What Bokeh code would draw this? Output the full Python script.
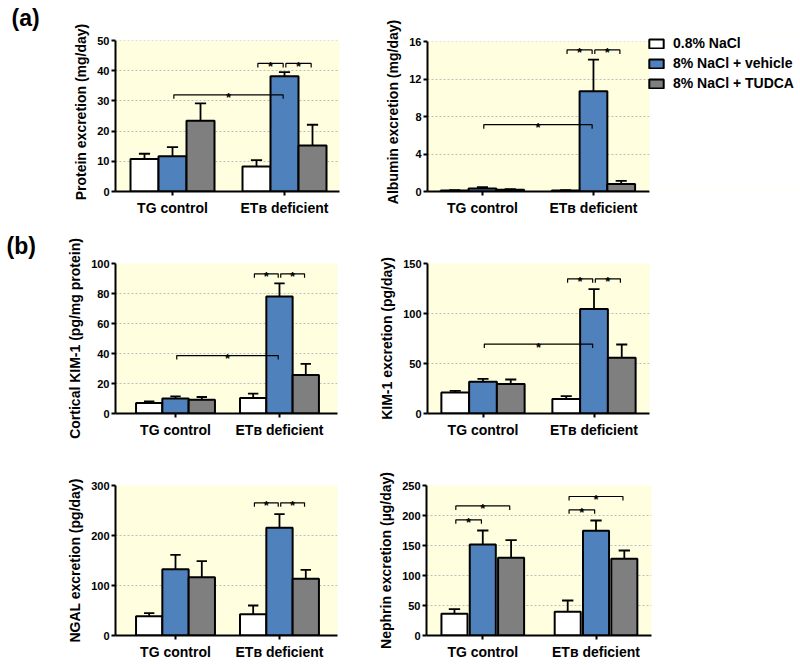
from bokeh.plotting import figure
from bokeh.models import FixedTicker, Legend, LegendItem, ColumnDataSource, Range1d, BoxAnnotation
from bokeh.layouts import column, row
from bokeh.embed import file_html
from bokeh.resources import INLINE
from bokeh.core.properties import value

FONT = "Liberation Sans"
YELLOW = "#FFFFE0"
GROUPS = ["TG control", "ET\u0299 deficient"]
SERIES = ["0.8% NaCl", "8% NaCl + vehicle", "8% NaCl + TUDCA"]
COLORS = ["#FFFFFF", "#4F81BD", "#7F7F7F"]
PANEL_TAGS = ["(a)", "(b)"]

# (a) left: protein excretion  -- rows = series, columns = groups
protein_mean = [[10.8, 8.3], [11.7, 38.2], [23.4, 15.2]]
protein_sem = [[1.7, 2.1], [3.0, 1.3], [5.8, 6.9]]
protein_ticks = [0, 10, 20, 30, 40, 50]
protein_sig = [(0, 1, 1, 1, 32.0), (1, 0, 1, 1, 42.4), (1, 1, 1, 2, 42.4)]

# (a) right: albumin excretion
albumin_mean = [[0.1, 0.1], [0.32, 10.7], [0.2, 0.81]]
albumin_sem = [[0.04, 0.04], [0.14, 3.36], [0.05, 0.32]]
albumin_ticks = [0, 4, 8, 12, 16]
albumin_sig = [(0, 1, 1, 1, 7.13), (1, 0, 1, 1, 15.1), (1, 1, 1, 2, 15.1)]

# (b) cortical KIM-1
ckim_mean = [[7.0, 10.3], [10.0, 78.0], [9.2, 25.7]]
ckim_sem = [[1.0, 2.9], [1.4, 8.7], [1.8, 7.4]]
ckim_ticks = [0, 20, 40, 60, 80, 100]
ckim_sig = [(0, 1, 1, 1, 38.6), (1, 0, 1, 1, 93.1), (1, 1, 1, 2, 93.1)]

# (b) KIM-1 excretion
kim_mean = [[21.0, 14.4], [31.7, 104.4], [29.4, 55.7]]
kim_sem = [[1.7, 3.0], [3.0, 20.0], [4.6, 13.3]]
kim_ticks = [0, 50, 100, 150]
kim_sig = [(0, 1, 1, 1, 69.4), (1, 0, 1, 1, 134.7), (1, 1, 1, 2, 134.7)]

# (b) NGAL excretion
ngal_mean = [[38.7, 42.7], [132.7, 215.3], [116.7, 113.3]]
ngal_sem = [[6.0, 17.3], [28.6, 27.4], [32.0, 18.0]]
ngal_ticks = [0, 100, 200, 300]
ngal_sig = [(1, 0, 1, 1, 265.3), (1, 1, 1, 2, 265.3)]

# (b) Nephrin excretion
neph_mean = [[36.1, 39.5], [151.7, 174.5], [129.5, 127.8]]
neph_sem = [[7.8, 18.8], [23.3, 17.2], [29.5, 13.9]]
neph_ticks = [0, 50, 100, 150, 200, 250]
neph_sig = [(0, 0, 0, 1, 192.8), (0, 0, 0, 2, 216.0), (1, 0, 1, 1, 209.5), (1, 0, 1, 2, 231.7)]


def make_panel(ylabel, means, sems, ticks, sig, xr, size, borders,
               bar_w=0.25, bar_step=0.25, tick_out=4, standoff=4, vis_frac=1.0):
    w, h = size
    bl, br, bt, bb = borders
    ytop = ticks[-1]
    yend = ytop / vis_frac
    p = figure(width=w, height=h, x_range=Range1d(*xr), y_range=Range1d(0, yend),
               output_backend="svg", toolbar_location=None,
               min_border_left=bl, min_border_right=br,
               min_border_top=bt, min_border_bottom=bb)
    p.background_fill_color = YELLOW
    p.border_fill_color = "white"
    p.outline_line_color = None
    p.xgrid.visible = False
    p.ygrid.ticker = FixedTicker(ticks=ticks)
    p.ygrid.grid_line_color = "#BDBDBD"
    p.ygrid.grid_line_dash = "2 2"
    p.ygrid.grid_line_width = 1

    offs = [-bar_step, 0.0, bar_step]
    rs = []
    for s in range(3):
        xs = [g + offs[s] for g in range(len(GROUPS))]
        errs = [m + e for m, e in zip(means[s], sems[s])]
        src = ColumnDataSource(dict(x=xs, top=means[s], err=errs,
                                    cl=[x - 0.05 for x in xs], cr=[x + 0.05 for x in xs]))
        p.segment('x', 'top', 'x', 'err', source=src, line_color="black", line_width=1.8)
        p.segment('cl', 'err', 'cr', 'err', source=src, line_color="black", line_width=1.8)
        r = p.vbar(x='x', top='top', bottom=0, width=bar_w, source=src,
                   fill_color=COLORS[s], line_color="black", line_width=2)
        rs.append(r)

    # significance brackets
    frame_h = h - bt - bb
    drop = yend / frame_h * 4
    bxs, bys, sx, sy = [], [], [], []
    for g0, b0, g1, b1, yv in sig:
        x0 = g0 + offs[b0] + 0.012
        x1 = g1 + offs[b1] - 0.012
        bxs.append([x0, x0, x1, x1])
        bys.append([yv - drop, yv, yv, yv - drop])
        sx.append((x0 + x1) / 2)
        sy.append(yv)
    p.multi_line(bxs, bys, line_color="black", line_width=1.2)
    p.text(sx, sy, text=["*"] * len(sx), text_align="center", text_baseline="alphabetic",
           y_offset=3, text_font=value(FONT), text_font_style="bold",
           text_font_size="13px", text_color="black")

    if vis_frac < 1.0:
        # plotting area stops at the top tick; blank out the strip above it
        p.yaxis.bounds = (0, ytop)
        p.add_layout(BoxAnnotation(bottom=ytop, fill_color="white", fill_alpha=1.0, line_color=None))

    for ax in (p.xaxis[0], p.yaxis[0]):
        ax.axis_line_width = 2
        ax.axis_line_color = "black"
        ax.major_tick_line_width = 2
        ax.major_tick_line_color = "black"
        ax.major_tick_in = 0
        ax.minor_tick_line_color = None
        ax.major_label_text_font = FONT
        ax.major_label_text_font_style = "bold"
        ax.major_label_text_color = "black"
    p.xaxis.major_tick_out = tick_out
    p.xaxis.major_label_standoff = standoff
    p.xaxis.ticker = FixedTicker(ticks=[0, 1])
    p.xaxis.major_label_overrides = {0: GROUPS[0], 1: GROUPS[1]}
    p.xaxis.major_label_text_font_size = "14px"
    p.yaxis.major_tick_out = 4
    p.yaxis.major_label_standoff = 2
    p.yaxis.ticker = FixedTicker(ticks=ticks)
    p.yaxis.major_label_text_font_size = "11px"
    p.yaxis.axis_label = ylabel
    p.yaxis.axis_label_text_font = FONT
    p.yaxis.axis_label_text_font_style = "bold"
    p.yaxis.axis_label_text_font_size = "14px"
    p.yaxis.axis_label_text_color = "black"
    p.yaxis.axis_label_standoff = 5
    return p, rs


def set_tag(p, tag, offset, standoff):
    p.title.text = tag
    p.title.align = "left"
    p.title.offset = offset
    p.title.text_font = FONT
    p.title.text_font_style = "bold"
    p.title.text_font_size = "23px"
    p.title.text_color = "black"
    p.title.standoff = standoff
    p.title.vertical_align = "bottom"


# row 1 (frames start at y=32 so the legend fits; plotting areas start at the top tick)
p1, _ = make_panel("Protein excretion (mg/day)", protein_mean, protein_sem, protein_ticks, protein_sig,
                   (-0.509, 1.491), (345, 224), (115, 6, 32, 33), vis_frac=151 / 159)
set_tag(p1, PANEL_TAGS[0], -104, 3)

ALB_END = 1.505
p2, r2 = make_panel("Albumin excretion (mg/day)", albumin_mean, albumin_sem, albumin_ticks, albumin_sig,
                    (-0.495, 2.865), (455, 224), (82, 0, 32, 33), vis_frac=150 / 159)
p2.xaxis.bounds = (-0.495, ALB_END)
p2.add_layout(BoxAnnotation(left=ALB_END, fill_color="white", fill_alpha=1.0, line_color=None))
legend = Legend(items=[LegendItem(label=SERIES[i], renderers=[r2[i]]) for i in range(3)],
                location=(220, 98), orientation="vertical", margin=0, padding=0, spacing=0,
                glyph_width=18, glyph_height=11, label_height=20, label_standoff=8,
                label_text_font=FONT, label_text_font_style="bold", label_text_font_size="14px",
                label_text_color="black", border_line_color=None, background_fill_alpha=0)
p2.add_layout(legend)

# row 2
p3, _ = make_panel("Cortical KIM-1 (pg/mg protein)", ckim_mean, ckim_sem, ckim_ticks, ckim_sig,
                   (-0.577, 1.558), (345, 229), (115, 8, 39, 40), bar_w=0.253, bar_step=0.253)
p4, _ = make_panel("KIM-1 excretion (pg/day)", kim_mean, kim_sem, kim_ticks, kim_sig,
                   (-0.50, 1.50), (455, 229), (82, 151, 39, 40))
set_tag(p3, PANEL_TAGS[1], -109, 10)

# row 3
p5, _ = make_panel("NGAL excretion (pg/day)", ngal_mean, ngal_sem, ngal_ticks, ngal_sig,
                   (-0.577, 1.558), (345, 212), (115, 8, 32, 30), bar_w=0.253, bar_step=0.253)
p6, _ = make_panel("Nephrin excretion (\u00b5g/day)", neph_mean, neph_sem, neph_ticks, neph_sig,
                   (-0.497, 1.49), (455, 212), (81, 149, 32, 30), bar_w=0.23, bar_step=0.25)

layout = column(row(p1, p2), row(p3, p4), row(p5, p6))
open("out.html", "w").write(file_html(layout, INLINE))
